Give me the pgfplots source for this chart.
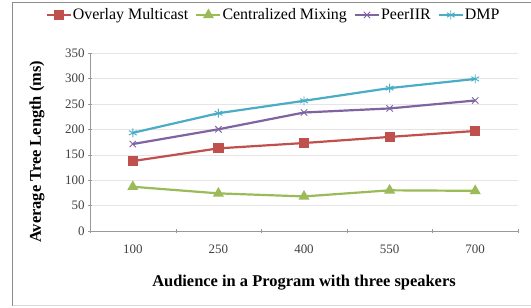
\documentclass[border=0pt]{standalone}
\usepackage{fontspec}
\setmainfont{Liberation Serif}
\usepackage{pgfplots}
\pgfplotsset{compat=1.18}
\definecolor{cRed}{HTML}{C0504D}
\definecolor{cGreen}{HTML}{9BBB59}
\definecolor{cPurple}{HTML}{8064A2}
\definecolor{cCyan}{HTML}{4BACC6}
\begin{document}
\begin{tikzpicture}[x=1bp,y=1bp]
\useasboundingbox (0,0) rectangle (531,307);
\draw[black!45, line width=1.5bp] (12.5,1.5) -- (12.5,304.5) -- (545,304.5);
\draw[black!15, line width=1bp] (12.5,1.5) -- (545,1.5);
\begin{axis}[
  at={(90bp,76bp)}, anchor=south west,
  scale only axis, width=428bp, height=178bp,
  xmin=-0.5, xmax=4.5, ymin=0, ymax=350,
  ytick={0,50,...,350},
  xtick={0,...,4}, xticklabels={100,250,400,550,700},
  minor xtick={-0.5,0.5,...,4.5},
  major x tick style={draw=none},
  minor x tick style={black!40},
  minor tick length=4bp, major tick length=4bp,
  tick align=outside,
  y tick style={black!40},
  axis lines=left, axis line style={-, black!40},
  ymajorgrids, grid style={black!10},
  tick label style={font=\rmfamily\fontsize{13}{15}\selectfont, text=black!75},
  xticklabel style={yshift=-8bp},
  /pgf/number format/assume math mode=true,
  xlabel={\textbf{Audience in a Program with three speakers}},
  ylabel={\textbf{Average Tree Length (ms)}},
  every axis x label/.style={at={(axis description cs:0.5,0)}, anchor=center, yshift=-52bp, font=\rmfamily\fontsize{16.5}{18}\selectfont},
  every axis y label/.style={at={(axis description cs:-0.124,0.445)}, anchor=center, rotate=90, font=\rmfamily\fontsize{16.5}{18}\selectfont},
  legend columns=4,
  legend style={at={(axis description cs:0.4276,1.2135)}, anchor=center,
    draw=none, fill=none, font=\rmfamily\fontsize{16}{18}\selectfont,
    inner sep=0pt,
    nodes={inner sep=1bp},
    /tikz/every even column/.append style={column sep=6bp}},
  legend image code/.code={\draw[mark repeat=2,mark phase=2,#1] plot coordinates {(0bp,0bp) (12bp,0bp) (24bp,0bp)};},
]
\addplot[color=cRed, line width=2.2bp, mark=square*, mark size=4bp, mark options={solid}] coordinates {(0,137.5) (1,162.5) (2,173) (3,185) (4,196.7)};
\addlegendentry{Overlay Multicast}
\addplot[color=cGreen, line width=2.2bp, mark=triangle*, mark size=4.2bp] coordinates {(0,87) (1,74) (2,68) (3,80) (4,79)};
\addlegendentry{Centralized Mixing}
\addplot[color=cPurple, line width=2.2bp, mark=x, mark size=4.5bp, mark options={line width=0.9bp}] coordinates {(0,171) (1,200) (2,233) (3,241) (4,256.6)};
\addlegendentry{PeerIIR}
\addplot[color=cCyan, line width=2.2bp, mark=asterisk, mark size=4.5bp, mark options={line width=0.9bp}] coordinates {(0,193) (1,231.6) (2,256) (3,281) (4,299)};
\addlegendentry{DMP}
\end{axis}
\end{tikzpicture}
\end{document}
